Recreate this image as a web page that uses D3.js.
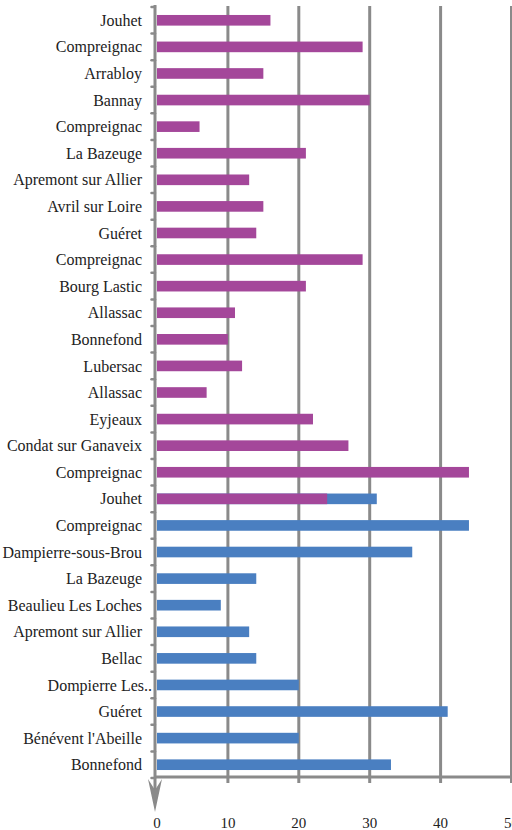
<!DOCTYPE html>
<html>
<head>
<meta charset="utf-8">
<script src="https://d3js.org/d3.v7.min.js"></script>
<style>
  html, body { margin: 0; padding: 0; background: #fff; }
  svg { display: block; }
  .cat { font-family: 'Liberation Serif', 'Times New Roman', serif; font-size: 16px; fill: #222; }
  .tick-label { font-family: 'Liberation Serif', 'Times New Roman', serif; font-size: 15px; fill: #222; }
</style>
</head>
<body>
<div id="chart"></div>
<script>
// categories, top to bottom
const categories = [
  'Jouhet', 'Compreignac', 'Arrabloy', 'Bannay', 'Compreignac', 'La Bazeuge',
  'Apremont sur Allier', 'Avril sur Loire', 'Guéret', 'Compreignac', 'Bourg Lastic',
  'Allassac', 'Bonnefond', 'Lubersac', 'Allassac', 'Eyjeaux', 'Condat sur Ganaveix',
  'Compreignac', 'Jouhet', 'Compreignac', 'Dampierre-sous-Brou', 'La Bazeuge',
  'Beaulieu Les Loches', 'Apremont sur Allier', 'Bellac', 'Dompierre Les..',
  'Guéret', "Bénévent l'Abeille", 'Bonnefond'
];

// purple series (drawn on top)
const purpleValues = [
  16, 29, 15, 30, 6, 21, 13, 15, 14, 29, 21, 11, 10, 12, 7, 22, 27, 44, 24,
  null, null, null, null, null, null, null, null, null, null
];

// blue series (drawn underneath)
const blueValues = [
  null, null, null, null, null, null, null, null, null, null, null, null, null,
  null, null, null, null, null, 31, 44, 36, 14, 9, 13, 14, 20, 41, 20, 33
];

const xTicks = [0, 10, 20, 30, 40, 50];

const width = 512, height = 830;
const gridColor = '#8a8a8a';

const svg = d3.select('#chart').append('svg')
  .attr('width', width)
  .attr('height', height);

const x = d3.scaleLinear().domain([0, 50]).range([157, 511.5]);
const y = d3.scaleBand()
  .domain(d3.range(categories.length))
  .range([7, 778])
  .paddingInner(0.6)
  .paddingOuter(0.3);

const axisY = 777;

// vertical gridlines (with small ticks below the axis)
svg.append('g').selectAll('line')
  .data(xTicks.slice(1))
  .enter().append('line')
  .attr('x1', d => x(d)).attr('x2', d => x(d))
  .attr('y1', 6).attr('y2', axisY + 6)
  .attr('stroke', gridColor).attr('stroke-width', 3);

// bottom axis line
svg.append('line')
  .attr('x1', 154).attr('x2', width)
  .attr('y1', axisY).attr('y2', axisY)
  .attr('stroke', gridColor).attr('stroke-width', 3);

// bars
function drawSeries(values, color) {
  svg.append('g').selectAll('rect')
    .data(values.map((v, i) => ({ v, i })).filter(d => d.v != null))
    .enter().append('rect')
    .attr('x', x(0))
    .attr('y', d => y(d.i))
    .attr('width', d => x(d.v) - x(0))
    .attr('height', y.bandwidth())
    .attr('fill', color);
}
drawSeries(blueValues, '#4a7fc1');
drawSeries(purpleValues, '#a4479a');

// left axis with arrow
const axisX = 155;
svg.append('line')
  .attr('x1', axisX).attr('x2', axisX)
  .attr('y1', 5).attr('y2', 795)
  .attr('stroke', gridColor).attr('stroke-width', 3);
svg.append('path')
  .attr('d', `M${axisX},812 L${axisX - 7},779 L${axisX},790 L${axisX + 7},779 Z`)
  .attr('fill', gridColor);

// category boundary ticks on left axis
const bounds = d3.range(categories.length + 1).map(i => y.range()[0] + i * y.step());
svg.append('g').selectAll('line')
  .data(bounds)
  .enter().append('line')
  .attr('x1', 151.5).attr('x2', axisX)
  .attr('y1', d => d).attr('y2', d => d)
  .attr('stroke', gridColor).attr('stroke-width', 2.5)
  .attr('stroke-linecap', 'round');

// category labels
svg.append('g').selectAll('text')
  .data(categories)
  .enter().append('text')
  .attr('class', 'cat')
  .attr('x', d => d.endsWith('..') ? 152 : 142)
  .attr('y', (d, i) => y(i) + y.bandwidth() / 2)
  .attr('dy', '0.35em')
  .attr('text-anchor', 'end')
  .text(d => d);

// x tick labels
svg.append('g').selectAll('text')
  .data(xTicks)
  .enter().append('text')
  .attr('class', 'tick-label')
  .attr('x', d => x(d))
  .attr('y', 828)
  .attr('text-anchor', 'middle')
  .text(d => d);
</script>
</body>
</html>
